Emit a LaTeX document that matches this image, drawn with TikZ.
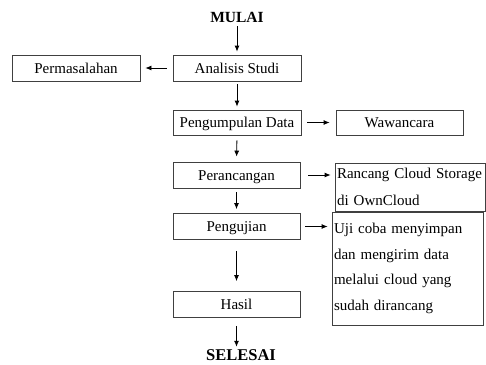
\documentclass[tikz,border=0pt]{standalone}
\usepackage{fontspec}
\setmainfont{Liberation Serif}
\usetikzlibrary{arrows.meta}
\hyphenpenalty=10000
\exhyphenpenalty=10000
\begin{document}
\begin{tikzpicture}[x=1pt,y=-1pt,
  box/.style={draw=black!75,line width=0.8pt,rectangle,inner sep=0pt,minimum height=26pt,minimum width=128pt,text height=12pt,text depth=2pt,font=\fontsize{15}{18}\selectfont},
  tbox/.style={draw=black!75,line width=0.8pt,rectangle,inner xsep=2pt,inner ysep=0pt,align=left,font=\fontsize{15}{25.5}\selectfont},
  term/.style={inner sep=0pt,font=\fontsize{15.5}{18}\selectfont\bfseries},
  arr/.style={-{Latex[length=6pt,width=5pt]},line width=0.8pt,black}
]
\useasboundingbox (0,0) rectangle (486,364);
\node[term] (mulai) at (237,17) {MULAI};
\node[box] (analisis) at (237,68) {Analisis Studi};
\node[box] (masalah) at (76,68) {Permasalahan};
\node[box,minimum height=25pt] (kumpul) at (237,122.5) {Pengumpulan Data};
\node[box,minimum height=25pt,minimum width=127pt] (wawan) at (399.5,122.5) {Wawancara};
\node[box,minimum width=127pt] (rancang) at (236.5,175) {Perancangan};
\node[tbox,text width=146pt,minimum height=48pt,font=\fontsize{15}{27}\selectfont] (cloud) at (410,187) {Rancang Cloud Storage\\di OwnCloud};
\node[tbox,text width=147pt,minimum height=113pt] (ujibox) at (407.5,268.5) {Uji coba menyimpan\\dan mengirim data\\melalui cloud yang\\sudah dirancang};
\node[box,minimum width=127pt] (uji) at (236.5,226.5) {Pengujian};
\node[box,minimum width=127pt] (hasil) at (236.5,304.5) {Hasil};
\node[term,font=\fontsize{16.5}{18}\selectfont\bfseries] (selesai) at (241,355.5) {SELESAI};

\draw[arr,shorten <=4pt,shorten >=3pt] (mulai.south -| analisis.north) -- (analisis.north);
\draw[arr,shorten <=6pt,shorten >=5pt] (analisis.west) -- (masalah.east);
\draw[arr,shorten <=3pt,shorten >=3pt] (analisis.south) -- (kumpul.north);
\draw[arr,shorten <=6pt,shorten >=6pt] (kumpul.east) -- (wawan.west);
\draw[arr,shorten <=5pt,shorten >=5pt] (kumpul.south) -- (rancang.north);
\draw[arr,shorten <=8pt,shorten >=4pt] (rancang.east) -- (rancang.east -| cloud.west);
\draw[arr,shorten <=4pt,shorten >=4pt] (rancang.south) -- (uji.north);
\draw[arr,shorten <=5pt,shorten >=4pt] (uji.east) -- (uji.east -| ujibox.west);
\draw[arr,shorten <=11pt,shorten >=10pt] (uji.south) -- (hasil.north);
\draw[arr,shorten <=8pt,shorten >=3pt] (hasil.south) -- (hasil.south |- selesai.north);
\end{tikzpicture}
\end{document}
